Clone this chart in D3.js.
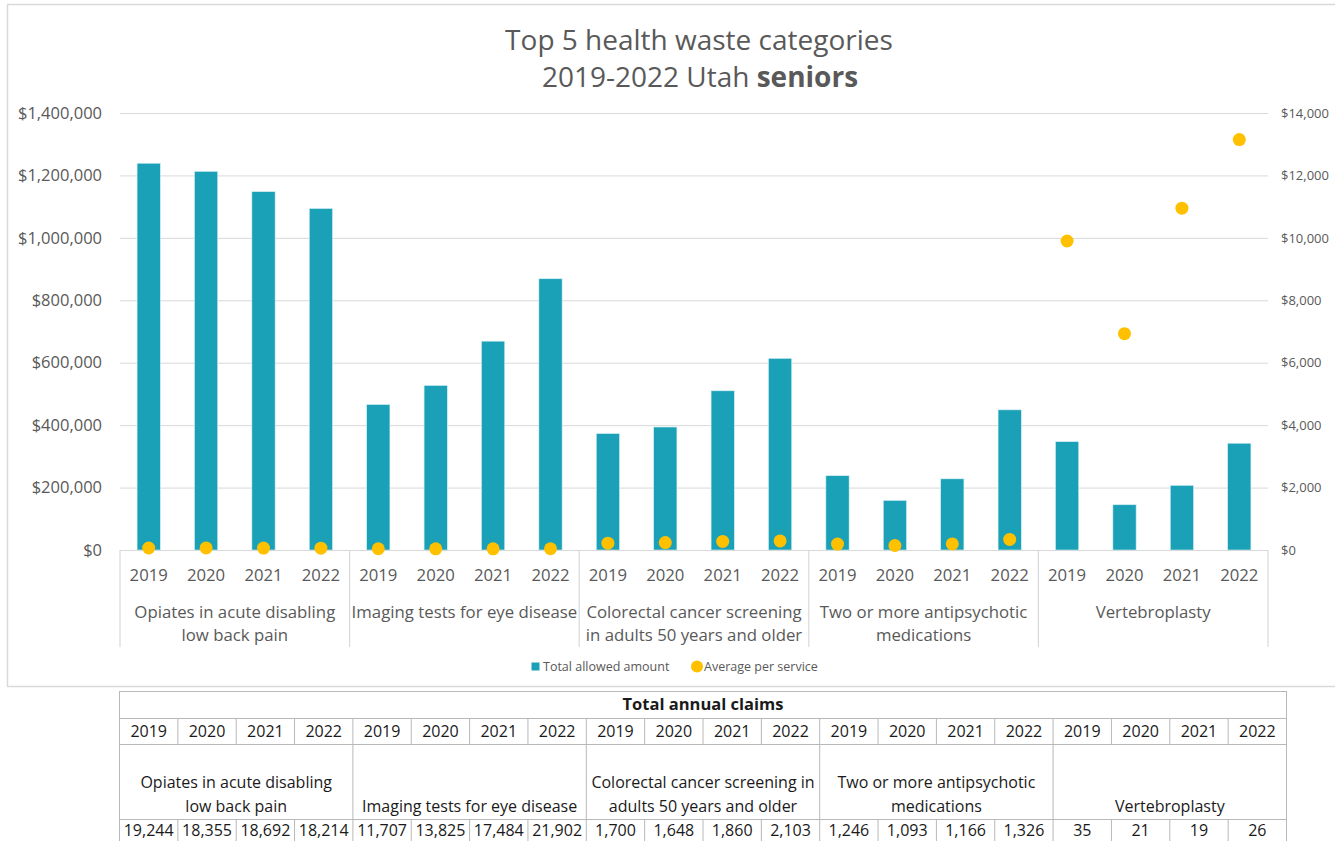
<!DOCTYPE html>
<html>
<head>
<meta charset="utf-8">
<script src="https://cdn.jsdelivr.net/npm/d3@7"></script>
<style>
  html, body { margin: 0; padding: 0; background: #ffffff; }
  svg { display: block; font-family: "Open Sans", "Noto Sans", sans-serif; }
</style>
</head>
<body>
<svg id="chart" width="1335" height="841"></svg>
<script>
// ---------------- DATA ----------------
const categories = [
  "Opiates in acute disabling low back pain",
  "Imaging tests for eye disease",
  "Colorectal cancer screening in adults 50 years and older",
  "Two or more antipsychotic medications",
  "Vertebroplasty"
];
const chartLabelLines = [
  ["Opiates in acute disabling", "low back pain"],
  ["Imaging tests for eye disease"],
  ["Colorectal cancer screening", "in adults 50 years and older"],
  ["Two or more antipsychotic", "medications"],
  ["Vertebroplasty"]
];
const tableLabelLines = [
  ["Opiates in acute disabling", "low back pain"],
  ["Imaging tests for eye disease"],
  ["Colorectal cancer screening in", "adults 50 years and older"],
  ["Two or more antipsychotic", "medications"],
  ["Vertebroplasty"]
];
const years = ["2019", "2020", "2021", "2022"];

// Total allowed amount (left axis), 4 years per category in order
const totalAllowed = [
  1239000, 1213000, 1148000, 1094000,
  466000, 527000, 669000, 869000,
  373000, 394000, 510000, 614000,
  238000, 159000, 228000, 449000,
  347000, 145000, 207000, 342000
];
// Average per service (right axis)
const averagePerService = [
  64, 66, 61, 60,
  40, 38, 38, 40,
  219, 239, 274, 292,
  191, 145, 196, 339,
  9900, 6930, 10950, 13150
];
// Total annual claims (table)
const annualClaims = [
  "19,244", "18,355", "18,692", "18,214",
  "11,707", "13,825", "17,484", "21,902",
  "1,700", "1,648", "1,860", "2,103",
  "1,246", "1,093", "1,166", "1,326",
  "35", "21", "19", "26"
];
const leftTicks = [0, 200000, 400000, 600000, 800000, 1000000, 1200000, 1400000];
const rightTicks = [0, 2000, 4000, 6000, 8000, 10000, 12000, 14000];
const seriesNames = ["Total allowed amount", "Average per service"];
const titleLine1 = "Top 5 health waste categories";
const titleLine2a = "2019-2022 Utah ";
const titleLine2b = "seniors";
const tableTitle = "Total annual claims";

// ---------------- STYLE ----------------
const BAR = "#1ba1b7";
const DOT = "#ffc000";
const GRID = "#d9d9d9";
const TXT = "#595959";

const svg = d3.select("#chart");
svg.append("rect").attr("width", 1335).attr("height", 841).attr("fill", "#fff");

// chart frame
svg.append("rect").attr("x", 7.5).attr("y", 4.5).attr("width", 1340).attr("height", 682)
  .attr("fill", "none").attr("stroke", GRID).attr("stroke-width", 1.5);

// title
const title = svg.append("text").attr("text-anchor", "middle").attr("fill", TXT)
  .style("font-size", "28px");
title.append("tspan").attr("x", 699).attr("y", 50).text(titleLine1);
const t2 = title.append("tspan").attr("x", 700).attr("y", 87);
t2.append("tspan").text(titleLine2a);
t2.append("tspan").style("font-weight", "bold").text(titleLine2b);

// scales
const pLeft = 120, pRight = 1268, pTop = 113, pBase = 550;
const yL = d3.scaleLinear().domain([0, 1400000]).range([pBase, pTop]);
const yR = d3.scaleLinear().domain([0, 14000]).range([pBase, pTop]);
const x0 = d3.scaleBand().domain(categories).range([pLeft, pRight]).padding(0);
const x1 = d3.scaleBand().domain(years).range([0, x0.bandwidth()]).padding(0);

const rows = [];
categories.forEach((c, ci) => years.forEach((y, yi) => {
  const i = ci * 4 + yi;
  rows.push({ cat: c, year: y, total: totalAllowed[i], avg: averagePerService[i], claims: annualClaims[i] });
}));
const cx = d => x0(d.cat) + x1(d.year) + x1.bandwidth() / 2;

// gridlines
const grid = svg.append("g").attr("transform", `translate(${pLeft},0)`)
  .call(d3.axisLeft(yL).tickValues(leftTicks.slice(1)).tickSize(-(pRight - pLeft)).tickFormat(""));
grid.select(".domain").remove();
grid.selectAll("line").attr("stroke", GRID).attr("stroke-width", 1);

// left axis labels
const ax = svg.append("g").attr("transform", `translate(${pLeft},0)`)
  .call(d3.axisLeft(yL).tickValues(leftTicks).tickSize(0).tickPadding(18)
    .tickFormat(d => "$" + d3.format(",")(d)));
ax.select(".domain").remove();
ax.selectAll("text").attr("fill", TXT).style("font-size", "16.5px").style("font-family", "'Open Sans'");

// right axis labels
const axR = svg.append("g").attr("transform", `translate(${pRight},0)`)
  .call(d3.axisRight(yR).tickValues(rightTicks).tickSize(0).tickPadding(13)
    .tickFormat(d => "$" + d3.format(",")(d)));
axR.select(".domain").remove();
axR.selectAll("text").attr("fill", TXT).style("font-size", "13px").style("font-family", "'Open Sans'");

// bars
const bw = x1.bandwidth() * 0.405;
svg.append("g").selectAll("rect").data(rows).join("rect")
  .attr("x", d => cx(d) - bw / 2)
  .attr("y", d => yL(d.total))
  .attr("width", bw)
  .attr("height", d => pBase - yL(d.total))
  .attr("fill", BAR)
  .attr("stroke", "#d6eef2").attr("stroke-width", 0.6);

// x axis baseline and separators
svg.append("line").attr("x1", pLeft).attr("x2", pRight).attr("y1", pBase + 0.5).attr("y2", pBase + 0.5)
  .attr("stroke", GRID).attr("stroke-width", 1.2);
const seps = categories.map(c => x0(c)).concat([pRight]);
svg.append("g").selectAll("line").data(seps).join("line")
  .attr("x1", d => d).attr("x2", d => d).attr("y1", pBase).attr("y2", 647)
  .attr("stroke", GRID).attr("stroke-width", 1.2);

// dots
svg.append("g").selectAll("circle").data(rows).join("circle")
  .attr("cx", d => cx(d)).attr("cy", d => yR(d.avg)).attr("r", 6.5).attr("fill", DOT);

// year labels
svg.append("g").selectAll("text").data(rows).join("text")
  .attr("x", d => cx(d)).attr("y", 581).attr("text-anchor", "middle")
  .attr("fill", TXT).style("font-size", "16.7px").text(d => d.year);

// category labels
const cl = svg.append("g").selectAll("text").data(categories).join("text")
  .attr("text-anchor", "middle").attr("fill", TXT).style("font-size", "16.8px");
cl.each(function (c, i) {
  const t = d3.select(this);
  chartLabelLines[i].forEach((ln, k) => {
    t.append("tspan").attr("x", x0(c) + x0.bandwidth() / 2).attr("y", 617.5 + k * 23.5).text(ln);
  });
});

// legend
const lg = svg.append("g");
lg.append("rect").attr("x", 531.5).attr("y", 662.5).attr("width", 8).attr("height", 8).attr("fill", BAR);
lg.append("text").attr("x", 543).attr("y", 670.5).attr("fill", TXT).style("font-size", "12.5px").text(seriesNames[0]);
lg.append("circle").attr("cx", 697).attr("cy", 666.5).attr("r", 6).attr("fill", DOT);
lg.append("text").attr("x", 704).attr("y", 670.5).attr("fill", TXT).style("font-size", "12.5px").text(seriesNames[1]);

// ---------------- TABLE ----------------
const tL = 119.5, tR = 1286.5;
const tx = d3.scaleBand().domain(d3.range(20)).range([tL, tR]).padding(0);
const tg = d3.scaleBand().domain(categories).range([tL, tR]).padding(0);
const rY = [691, 718, 744, 819, 860];
const TB = "#b8b8b8";
const TT = "#1a1a1a";
const tbl = svg.append("g");
rY.slice(0, 4).forEach(y => tbl.append("line").attr("x1", tL).attr("x2", tR).attr("y1", y + 0.5).attr("y2", y + 0.5)
  .attr("stroke", TB).attr("stroke-width", 1));
[tL, tR].forEach(x => tbl.append("line").attr("x1", x).attr("x2", x).attr("y1", rY[0]).attr("y2", 841)
  .attr("stroke", TB).attr("stroke-width", 1));
d3.range(1, 20).forEach(i => {
  const x = tx(i);
  tbl.append("line").attr("x1", x).attr("x2", x).attr("y1", rY[1]).attr("y2", rY[2]).attr("stroke", TB);
  tbl.append("line").attr("x1", x).attr("x2", x).attr("y1", rY[3]).attr("y2", 841).attr("stroke", TB);
});
categories.slice(1).forEach(c => {
  const x = tg(c);
  tbl.append("line").attr("x1", x).attr("x2", x).attr("y1", rY[2]).attr("y2", rY[3]).attr("stroke", TB);
});
tbl.append("text").attr("x", (tL + tR) / 2).attr("y", 710).attr("text-anchor", "middle")
  .attr("fill", TT).style("font-size", "16.5px").style("font-weight", "bold").text(tableTitle);
tbl.selectAll("text.yr").data(rows).join("text").attr("class", "yr")
  .attr("x", (d, i) => tx(i) + tx.bandwidth() / 2).attr("y", 737).attr("text-anchor", "middle")
  .attr("fill", TT).style("font-size", "16px").text(d => d.year);
categories.forEach((c, i) => {
  const lines = tableLabelLines[i];
  const t = tbl.append("text").attr("text-anchor", "middle").attr("fill", TT).style("font-size", "16px");
  lines.forEach((ln, k) => {
    const y = 812 - (lines.length - 1 - k) * 24.5;
    t.append("tspan").attr("x", tg(c) + tg.bandwidth() / 2).attr("y", y).text(ln);
  });
});
tbl.selectAll("text.val").data(rows).join("text").attr("class", "val")
  .attr("x", (d, i) => tx(i) + tx.bandwidth() / 2).attr("y", 836).attr("text-anchor", "middle")
  .attr("fill", TT).style("font-size", "16px").text(d => d.claims);
</script>
</body>
</html>
